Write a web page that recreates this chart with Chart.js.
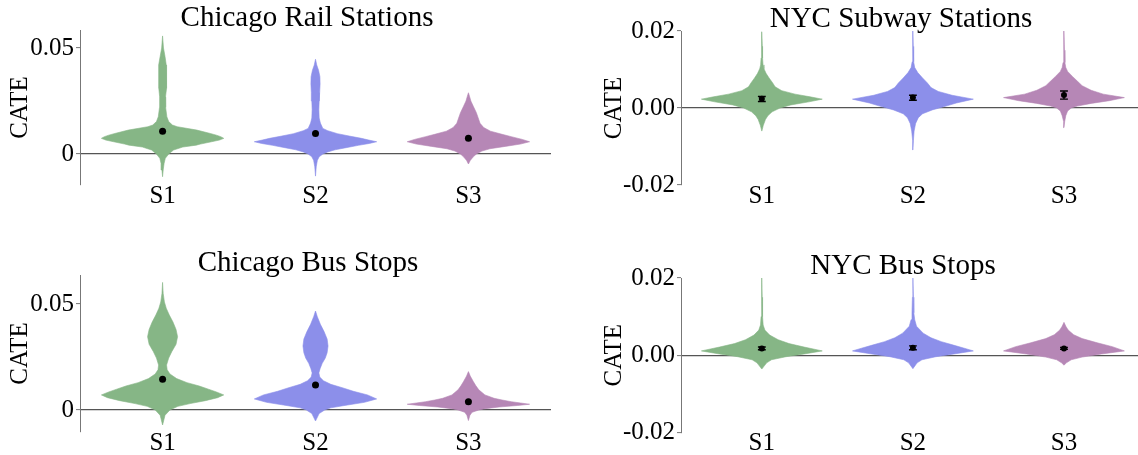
<!DOCTYPE html>
<html>
<head>
<meta charset="utf-8">
<script src="https://cdn.jsdelivr.net/npm/chart.js@4.4.1/dist/chart.umd.min.js"></script>
<style>
    html, body { margin: 0; padding: 0; background: #fff; overflow: hidden; }
    body { width: 1138px; height: 455px; position: relative; }
    canvas { position: absolute; }
</style>
</head>
<body>
<canvas id="rail_chart" width="614" height="225" style="left:0px;top:0px"></canvas>
<canvas id="subway_chart" width="602" height="225" style="left:600px;top:1px"></canvas>
<canvas id="bus_chart" width="616" height="225" style="left:0px;top:245px"></canvas>
<canvas id="nycbus_chart" width="606" height="225" style="left:600px;top:248px"></canvas>
<script>
// categories and axis ticks
const stations = ['S1', 'S2', 'S3'];
const chicagoTicks = [0, 0.05];
const chicagoTickLabels = ['0', '0.05'];
const nycTicks = [-0.02, 0, 0.02];
const nycTickLabels = ['-0.02', '0.00', '0.02'];

// violin outlines: CATE level (top to bottom) and relative half-width
const railS1Cate = [0.0557, 0.050, 0.046, 0.042, 0.036, 0.031, 0.027, 0.022, 0.0176, 0.0153, 0.0137, 0.0129, 0.0113, 0.0097, 0.0089, 0.0082, 0.0074, 0.0066, 0.0058, 0.0047, 0.0042, 0.0033, 0.0019, 0, -0.002, -0.0044, -0.0075, -0.0107];
const railS1Width = [0, 0.015, 0.04, 0.06, 0.068, 0.062, 0.048, 0.05, 0.07, 0.1, 0.16, 0.24, 0.56, 0.78, 0.88, 0.95, 1, 0.93, 0.8, 0.62, 0.55, 0.33, 0.18, 0.1, 0.045, 0.025, 0.01, 0];
const railS2Cate = [0.0447, 0.042, 0.0395, 0.0365, 0.033, 0.029, 0.025, 0.021, 0.017, 0.0146, 0.0121, 0.011, 0.0096, 0.0085, 0.0074, 0.0066, 0.0058, 0.005, 0.0041, 0.003, 0.002, 0.001, 0, -0.0013, -0.003, -0.006, -0.0104];
const railS2Width = [0, 0.02, 0.05, 0.072, 0.075, 0.068, 0.06, 0.055, 0.06, 0.08, 0.12, 0.2, 0.36, 0.55, 0.75, 0.87, 1, 0.88, 0.7, 0.5, 0.32, 0.2, 0.12, 0.06, 0.03, 0.012, 0];
const railS3Cate = [0.0289, 0.027, 0.025, 0.0225, 0.0195, 0.017, 0.0145, 0.0125, 0.0108, 0.0093, 0.0082, 0.0069, 0.0058, 0.0047, 0.0036, 0.0025, 0.0014, 0, -0.0013, -0.003, -0.0047];
const railS3Width = [0, 0.02, 0.04, 0.08, 0.13, 0.16, 0.19, 0.25, 0.36, 0.55, 0.7, 0.88, 1, 0.85, 0.6, 0.35, 0.22, 0.13, 0.08, 0.03, 0];

const busS1Cate = [0.0602, 0.055, 0.051, 0.048, 0.0448, 0.0415, 0.038, 0.0346, 0.031, 0.0275, 0.0245, 0.0212, 0.019, 0.017, 0.0148, 0.0129, 0.0113, 0.0098, 0.0085, 0.0071, 0.0058, 0.0044, 0.003, 0.0017, 0, -0.0025, -0.0071];
const busS1Width = [0, 0.01, 0.03, 0.06, 0.11, 0.17, 0.22, 0.245, 0.22, 0.15, 0.1, 0.065, 0.075, 0.12, 0.23, 0.4, 0.6, 0.75, 0.88, 1, 0.9, 0.7, 0.45, 0.25, 0.12, 0.04, 0];
const busS2Cate = [0.0467, 0.044, 0.0404, 0.037, 0.0335, 0.0302, 0.027, 0.0245, 0.022, 0.0195, 0.0175, 0.0155, 0.0138, 0.0121, 0.0104, 0.0088, 0.0071, 0.0052, 0.0036, 0.002, 0.001, 0, -0.0017, -0.0052];
const busS2Width = [0, 0.03, 0.08, 0.14, 0.19, 0.205, 0.19, 0.16, 0.11, 0.075, 0.055, 0.07, 0.13, 0.25, 0.45, 0.62, 0.85, 1, 0.8, 0.45, 0.25, 0.15, 0.06, 0];
const busS3Cate = [0.0181, 0.016, 0.0134, 0.0115, 0.0095, 0.0071, 0.0055, 0.0047, 0.0039, 0.0033, 0.0027, 0.0021, 0.0014, 0.0005, 0, -0.0011, -0.0025, -0.005];
const busS3Width = [0, 0.03, 0.08, 0.12, 0.17, 0.27, 0.42, 0.55, 0.7, 0.85, 1, 0.8, 0.5, 0.25, 0.17, 0.06, 0.025, 0];

const subwayS1Cate = [0.0198, 0.016, 0.013, 0.0112, 0.0102, 0.009, 0.0078, 0.0065, 0.0055, 0.0045, 0.0036, 0.0029, 0.0023, 0.0016, 0.0008, 0, -0.001, -0.002, -0.003, -0.0045, -0.006];
const subwayS1Width = [0, 0.008, 0.012, 0.02, 0.035, 0.07, 0.12, 0.18, 0.22, 0.33, 0.55, 0.8, 1, 0.78, 0.48, 0.3, 0.17, 0.1, 0.06, 0.025, 0];
const subwayS2Cate = [0.02, 0.016, 0.012, 0.0105, 0.0092, 0.0078, 0.0065, 0.0053, 0.0043, 0.0033, 0.0023, 0.0013, 0.0005, -0.0005, -0.0015, -0.0025, -0.004, -0.006, -0.0085, -0.0109];
const subwayS2Width = [0, 0.006, 0.012, 0.03, 0.08, 0.16, 0.24, 0.3, 0.42, 0.65, 1, 0.72, 0.55, 0.32, 0.16, 0.09, 0.045, 0.02, 0.008, 0];
const subwayS3Cate = [0.02, 0.015, 0.0118, 0.0105, 0.0095, 0.0082, 0.007, 0.0058, 0.0046, 0.0036, 0.0027, 0.0019, 0.0012, 0.0005, 0, -0.0008, -0.002, -0.0035, -0.0051];
const subwayS3Width = [0, 0.008, 0.015, 0.03, 0.06, 0.14, 0.22, 0.3, 0.45, 0.65, 1, 0.75, 0.45, 0.22, 0.12, 0.06, 0.03, 0.012, 0];

const nycBusS1Cate = [0.02, 0.015, 0.01, 0.0078, 0.0065, 0.0052, 0.004, 0.003, 0.0021, 0.0011, 0.0003, -0.0004, -0.0012, -0.002, -0.0036];
const nycBusS1Width = [0, 0.006, 0.012, 0.022, 0.05, 0.13, 0.27, 0.45, 0.7, 1, 0.7, 0.4, 0.16, 0.08, 0];
const nycBusS2Cate = [0.02, 0.015, 0.011, 0.0092, 0.0075, 0.0057, 0.0045, 0.0035, 0.0026, 0.0018, 0.0011, 0.0003, -0.0004, -0.0012, -0.002, -0.0035];
const nycBusS2Width = [0, 0.008, 0.015, 0.03, 0.06, 0.17, 0.3, 0.47, 0.67, 0.85, 1, 0.68, 0.38, 0.15, 0.07, 0];
const nycBusS3Cate = [0.0085, 0.0075, 0.0065, 0.0053, 0.0043, 0.0032, 0.0022, 0.0011, 0.0003, -0.0005, -0.0012, -0.002, -0.0026];
const nycBusS3Width = [0, 0.03, 0.07, 0.16, 0.3, 0.55, 0.8, 1, 0.62, 0.3, 0.12, 0.04, 0];

// means and confidence intervals
const railMeans = [0.0108, 0.0097, 0.0074];
const busMeans = [0.0145, 0.0118, 0.0039];
const subwayMeans = [0.0024, 0.0027, 0.0034];
const subwayLow = [0.0017, 0.0020, 0.0023];
const subwayHigh = [0.0030, 0.0033, 0.0044];
const nycBusMeans = [0.0017, 0.0019, 0.0017];
const nycBusLow = [0.0014, 0.0014, 0.0015];
const nycBusHigh = [0.0021, 0.0024, 0.0020];

const FONT = "'Liberation Serif', 'Times New Roman', serif";
const HALF = 0.4;   // max half width of a violin, in category units
const CAP = 0.026;  // error bar cap half width
const violinColors = ['#86b686', '#8c8fea', '#b687b6'];

function violinData(pos, cate, width) {
    var right = cate.map((c, k) => ({ x: pos + HALF * width[k], y: c }));
    var left = cate.map((c, k) => ({ x: pos - HALF * width[k], y: c })).reverse();
    return right.concat(left);
}

function errorBarData(low, high) {
    var pts = [];
    low.forEach((lo, i) => {
        var hi = high[i];
        pts.push({ x: i, y: lo }, { x: i, y: hi }, { x: i, y: null },
                 { x: i - CAP, y: lo }, { x: i + CAP, y: lo }, { x: i, y: null },
                 { x: i - CAP, y: hi }, { x: i + CAP, y: hi }, { x: i, y: null });
    });
    return pts;
}

function buildPanel(id, p) {
    var datasets = [{
        data: p.means.map((m, i) => ({ x: i, y: m })),
        pointRadius: p.dotRadius,
        pointBackgroundColor: '#000',
        pointBorderColor: '#000',
        pointBorderWidth: 0,
        order: 0
    }];
    if (p.low) {
        datasets.push({
            data: errorBarData(p.low, p.high),
            showLine: true,
            borderColor: '#000',
            borderWidth: 1.4,
            pointRadius: 0,
            order: 1
        });
    }
    p.violins.forEach((v, i) => {
        datasets.push({
            data: violinData(i, v[0], v[1]),
            showLine: true,
            fill: 'shape',
            backgroundColor: violinColors[i],
            borderColor: violinColors[i],
            borderWidth: 0.6,
            pointRadius: 0,
            order: 2
        });
    });
    datasets.forEach(d => { d.xAxisID = 'x'; d.yAxisID = 'y'; });

    var tickFont = { family: FONT, size: 25, lineHeight: 1 };
    return new Chart(document.getElementById(id).getContext('2d'), {
        type: 'scatter',
        data: { datasets: datasets },
        options: {
            responsive: false,
            animation: false,
            events: [],
            layout: { padding: 0 },
            plugins: {
                legend: { display: false },
                tooltip: { enabled: false },
                title: {
                    display: true,
                    text: p.title,
                    color: '#000',
                    font: { family: FONT, size: 29, weight: 'normal', lineHeight: 1 },
                    padding: { top: 4, bottom: -3 }
                }
            },
            scales: {
                x: {
                    type: 'linear',
                    min: p.xMin,
                    max: p.xMax,
                    afterBuildTicks: s => { s.ticks = stations.map((_, i) => ({ value: i })); },
                    afterFit: s => { s.height = p.xHeight; },
                    grid: { display: false, drawTicks: false },
                    border: { display: false },
                    ticks: {
                        callback: (v, i) => stations[i],
                        font: tickFont,
                        color: '#000',
                        padding: -1,
                        maxRotation: 0,
                        autoSkip: false
                    }
                },
                y: {
                    type: 'linear',
                    min: p.yMin,
                    max: p.yMax,
                    z: 1,
                    afterBuildTicks: s => { s.ticks = p.ticks.map(v => ({ value: v })); },
                    afterFit: s => { s.width = p.yWidth; },
                    grid: {
                        color: c => (c.tick && c.tick.value === 0) ? '#555' : 'rgba(0,0,0,0)',
                        lineWidth: 1.2,
                        drawTicks: true,
                        tickLength: 4,
                        tickColor: '#777',
                        tickWidth: 1
                    },
                    border: { display: true, color: '#777', width: 1 },
                    ticks: {
                        callback: (v, i) => p.tickLabels[i],
                        font: tickFont,
                        color: '#000',
                        padding: 2
                    },
                    title: {
                        display: true,
                        text: 'CATE',
                        color: '#000',
                        font: { family: FONT, size: 25, lineHeight: 1 },
                        padding: { top: p.labelPad, bottom: 0 }
                    }
                },
                pad: {
                    type: 'linear',
                    position: 'right',
                    display: true,
                    grid: { display: false, drawTicks: false },
                    border: { display: false },
                    ticks: { display: false },
                    afterFit: s => { s.width = p.padRight; }
                }
            }
        }
    });
}

document.addEventListener('DOMContentLoaded', function () {
    // Chicago Rail Stations
    buildPanel('rail_chart', {
        title: 'Chicago Rail Stations',
        violins: [[railS1Cate, railS1Width], [railS2Cate, railS2Width], [railS3Cate, railS3Width]],
        means: railMeans, dotRadius: 3.5,
        ticks: chicagoTicks, tickLabels: chicagoTickLabels,
        yMin: -0.0146, yMax: 0.0585, xMin: -0.54, xMax: 2.54,
        yWidth: 80, padRight: 63, xHeight: 40, labelPad: 7.5
    });

    // NYC Subway Stations
    buildPanel('subway_chart', {
        title: 'NYC Subway Stations',
        violins: [[subwayS1Cate, subwayS1Width], [subwayS2Cate, subwayS2Width], [subwayS3Cate, subwayS3Width]],
        means: subwayMeans, low: subwayLow, high: subwayHigh, dotRadius: 3,
        ticks: nycTicks, tickLabels: nycTickLabels,
        yMin: -0.02, yMax: 0.02, xMin: -0.535, xMax: 2.535,
        yWidth: 81, padRight: 57.2, xHeight: 41, labelPad: 2
    });

    // Chicago Bus Stops
    buildPanel('bus_chart', {
        title: 'Chicago Bus Stops',
        violins: [[busS1Cate, busS1Width], [busS2Cate, busS2Width], [busS3Cate, busS3Width]],
        means: busMeans, dotRadius: 3.5,
        ticks: chicagoTicks, tickLabels: chicagoTickLabels,
        yMin: -0.0104, yMax: 0.0637, xMin: -0.54, xMax: 2.54,
        yWidth: 80, padRight: 65, xHeight: 38, labelPad: 7.5
    });

    // NYC Bus Stops
    buildPanel('nycbus_chart', {
        title: 'NYC Bus Stops',
        violins: [[nycBusS1Cate, nycBusS1Width], [nycBusS2Cate, nycBusS2Width], [nycBusS3Cate, nycBusS3Width]],
        means: nycBusMeans, low: nycBusLow, high: nycBusHigh, dotRadius: 3,
        ticks: nycTicks, tickLabels: nycTickLabels,
        yMin: -0.02, yMax: 0.02, xMin: -0.535, xMax: 2.535,
        yWidth: 81, padRight: 61.2, xHeight: 40.7, labelPad: 2
    });
});
</script>
</body>
</html>
